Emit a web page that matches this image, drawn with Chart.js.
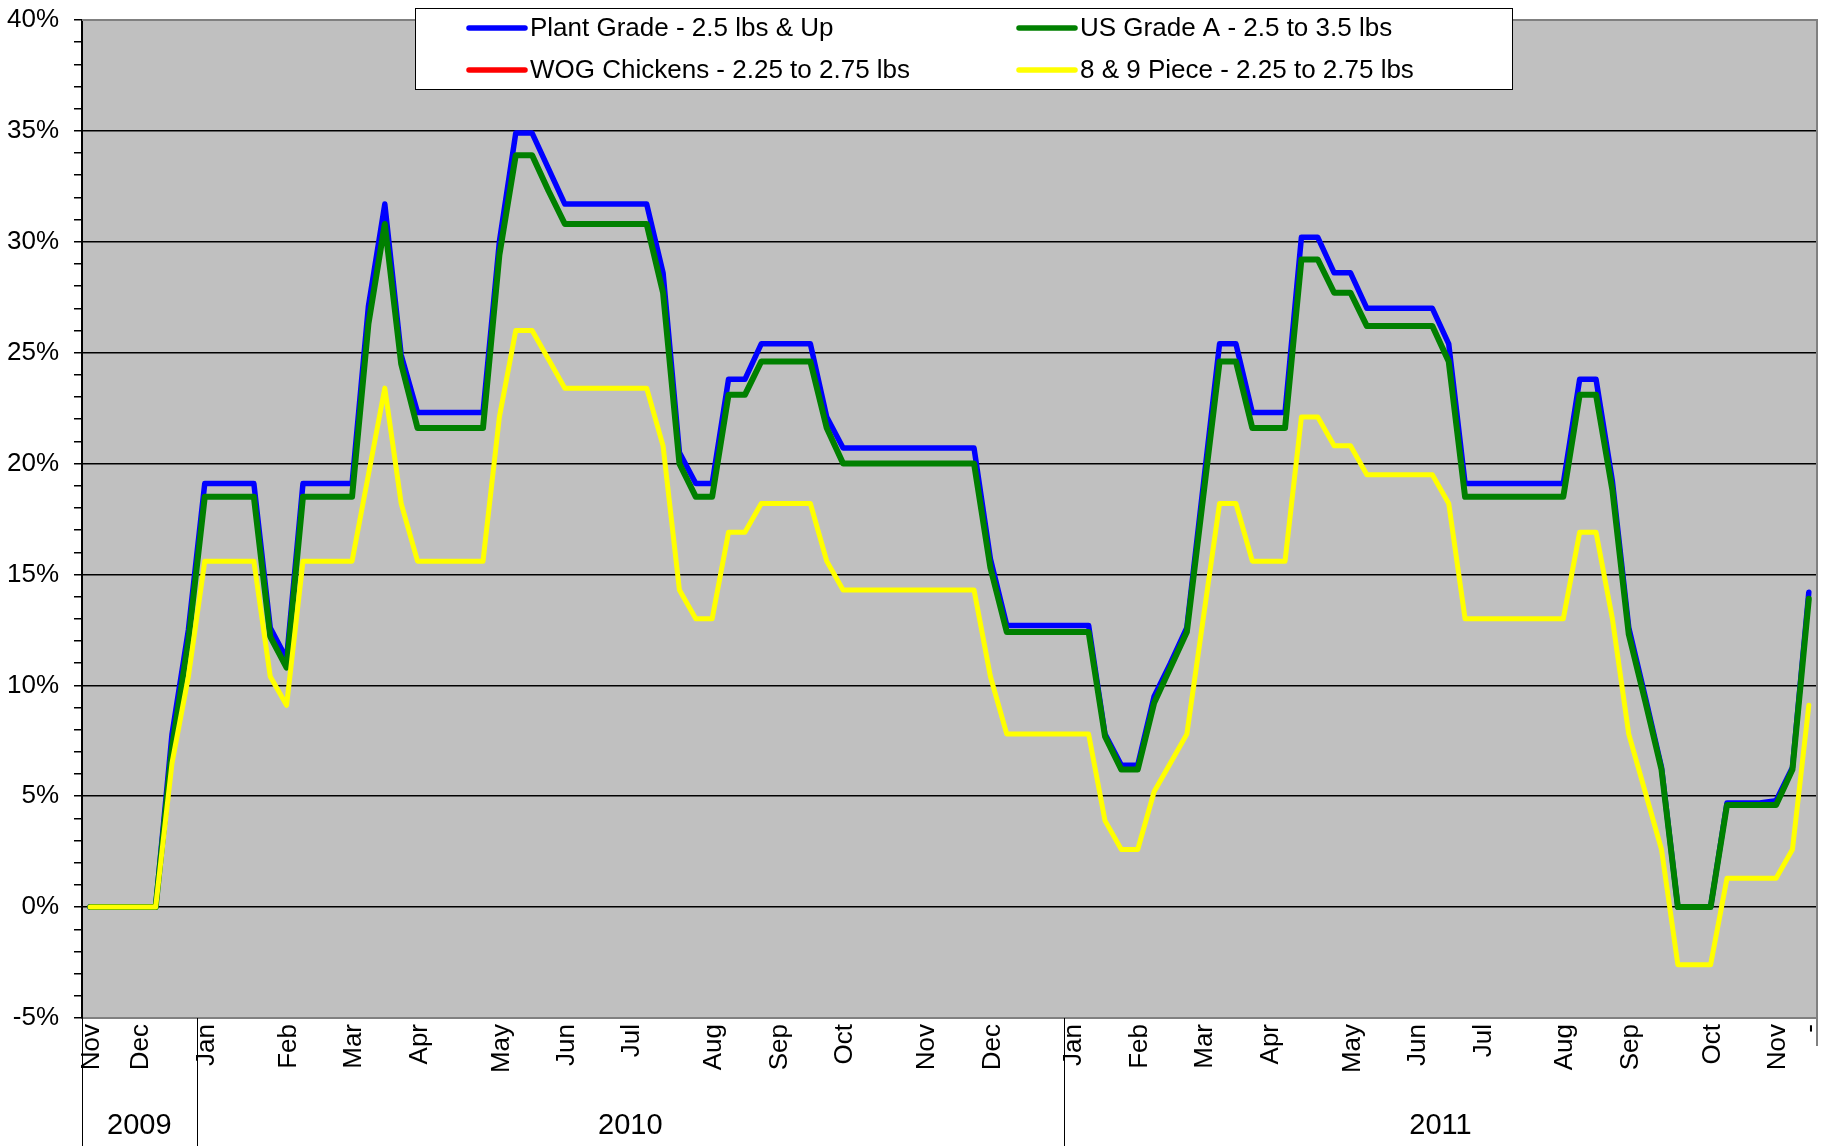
<!DOCTYPE html>
<html>
<head>
<meta charset="utf-8">
<script src="https://cdn.jsdelivr.net/npm/chart.js@4.4.1/dist/chart.umd.min.js"></script>
<style>
  html, body { margin: 0; padding: 0; background: #fff; }
</style>
</head>
<body>
<canvas id="chart" width="1825" height="1146"></canvas>
<script>
	// month label -> week index where it sits (106 weekly points)
	var monthNames = ['Nov','Dec','Jan','Feb','Mar','Apr','May','Jun','Jul','Aug','Sep','Oct','Nov','Dec',
		'Jan','Feb','Mar','Apr','May','Jun','Jul','Aug','Sep','Oct','Nov','-'];
	var monthWeek = [0,3,7,12,16,20,25,29,33,38,42,46,51,55,60,64,68,72,77,81,85,90,94,99,103,105];
	var years = ['2009','2010','2011'];
	var yearWeek = [0,7,60];
	var weekCount = 106;

	var plantGrade = [0,0,0,0,0, 7.8,12.5, 19.1,19.1,19.1,19.1, 12.6,11.2, 19.1,19.1,19.1,19.1,
		27.1,31.7,24.9, 22.3,22.3,22.3,22.3,22.3, 30.0,34.9,34.9,33.3, 31.7,31.7,31.7,31.7,31.7,31.7,
		28.6,20.5,19.1,19.1,23.8,23.8, 25.4,25.4,25.4,25.4, 22.1,
		20.7,20.7,20.7,20.7,20.7,20.7,20.7,20.7,20.7, 15.7, 12.7,12.7,12.7,12.7,12.7,12.7,
		7.8,6.4,6.4,9.5,11.0,12.6,19.0,25.4,25.4, 22.3,22.3,22.3, 30.2,30.2,28.6,28.6,
		27.0,27.0,27.0,27.0,27.0, 25.4, 19.1,19.1,19.1,19.1,19.1,19.1,19.1,
		23.8,23.8,19.2,12.6,9.5,6.3, 0,0,0, 4.7,4.7,4.7,4.8, 6.3,14.2];
	var usGradeA = [0,0,0,0,0, 7.2,12.0, 18.5,18.5,18.5,18.5, 12.2,10.8, 18.5,18.5,18.5,18.5,
		26.3,30.8,24.5, 21.6,21.6,21.6,21.6,21.6, 29.4,33.9,33.9,32.3, 30.8,30.8,30.8,30.8,30.8,30.8,
		27.7,20.0,18.5,18.5,23.1,23.1, 24.6,24.6,24.6,24.6, 21.6,
		20.0,20.0,20.0,20.0,20.0,20.0,20.0,20.0,20.0, 15.3, 12.4,12.4,12.4,12.4,12.4,12.4,
		7.7,6.2,6.2,9.2,10.8,12.4,18.5,24.6,24.6, 21.6,21.6,21.6, 29.2,29.2,27.7,27.7,
		26.2,26.2,26.2,26.2,26.2, 24.6, 18.5,18.5,18.5,18.5,18.5,18.5,18.5,
		23.1,23.1,18.8,12.3,9.3,6.2, 0,0,0, 4.6,4.6,4.6,4.6, 6.2,13.9];
	var wogChickens = [];
	var piece89 = [0,0,0,0,0, 6.5,10.4, 15.6,15.6,15.6,15.6, 10.4,9.1, 15.6,15.6,15.6,15.6,
		19.5,23.4,18.2, 15.6,15.6,15.6,15.6,15.6, 22.1,26.0,26.0,24.7, 23.4,23.4,23.4,23.4,23.4,23.4,
		20.8,14.3,13.0,13.0,16.9,16.9, 18.2,18.2,18.2,18.2, 15.6,
		14.3,14.3,14.3,14.3,14.3,14.3,14.3,14.3,14.3, 10.4, 7.8,7.8,7.8,7.8,7.8,7.8,
		3.9,2.6,2.6,5.2,6.5,7.8,13.0,18.2,18.2, 15.6,15.6,15.6, 22.1,22.1,20.8,20.8,
		19.5,19.5,19.5,19.5,19.5, 18.2, 13.0,13.0,13.0,13.0,13.0,13.0,13.0,
		16.9,16.9,13.0,7.8,5.2,2.6, -2.6,-2.6,-2.6, 1.3,1.3,1.3,1.3, 2.6,9.1];

	var FONT = 'Arial, "Liberation Sans", sans-serif';

	var weekLabels = [];
	for (var i = 0; i < weekCount; i++) { weekLabels.push(''); }
	for (var m = 0; m < monthWeek.length; m++) { weekLabels[monthWeek[m]] = monthNames[m]; }

	function series(label, data, color, width, order) {
		return {
			label: label, data: data, borderColor: color, backgroundColor: color,
			borderWidth: width, pointRadius: 0, tension: 0, fill: false, order: order,
			borderJoinStyle: 'round', borderCapStyle: 'round'
		};
	}

	// grey plot background, frame, year row and the boxed legend
	var excelFrame = {
		id: 'excelFrame',
		beforeDraw: function (chart) {
			var c = chart.ctx, a = chart.chartArea;
			c.save();
			c.fillStyle = '#fff';
			c.fillRect(0, 0, chart.width, chart.height);
			c.fillStyle = '#c0c0c0';
			c.fillRect(a.left, a.top, a.right - a.left, a.bottom - a.top);
			c.restore();
		},
		afterDraw: function (chart) {
			var c = chart.ctx, a = chart.chartArea, xs = chart.scales.x;
			var half = (xs.getPixelForValue(1) - xs.getPixelForValue(0)) / 2;
			c.save();
			// top and right frame
			c.strokeStyle = '#808080';
			c.lineWidth = 2;
			c.beginPath();
			c.moveTo(a.left, a.top); c.lineTo(a.right, a.top); c.lineTo(a.right, a.bottom);
			c.stroke();
			c.beginPath();
			c.moveTo(a.right, a.bottom); c.lineTo(a.right, a.bottom + 28);
			c.stroke();

			// year row
			c.strokeStyle = '#000';
			c.lineWidth = 1;
			c.fillStyle = '#000';
			c.font = '29px ' + FONT;
			c.textAlign = 'center';
			c.textBaseline = 'middle';
			for (var y = 0; y < years.length; y++) {
				var x0 = xs.getPixelForValue(yearWeek[y]) - half;
				var endWeek = y + 1 < yearWeek.length ? yearWeek[y + 1] : weekCount;
				var x1 = xs.getPixelForValue(endWeek - 1) + half;
				var xl = Math.round(x0) + 0.5;
				c.beginPath();
				c.moveTo(xl, a.bottom); c.lineTo(xl, chart.height);
				c.stroke();
				c.fillText(years[y], (x0 + x1) / 2, 1126);
			}

			// legend
			var box = { left: 415, top: 8, right: 1513, bottom: 90 };
			c.fillStyle = '#fff';
			c.fillRect(box.left, box.top, box.right - box.left, box.bottom - box.top);
			c.strokeStyle = '#000';
			c.lineWidth = 1;
			c.strokeRect(box.left + 0.5, box.top + 0.5, box.right - box.left - 1, box.bottom - box.top - 1);
			var colX = [469, 1019], rowY = [28, 70];
			c.font = '26px ' + FONT;
			c.textAlign = 'left';
			c.textBaseline = 'middle';
			chart.data.datasets.forEach(function (ds, k) {
				var lx = colX[k % 2], ly = rowY[Math.floor(k / 2)];
				c.strokeStyle = ds.borderColor;
				c.lineWidth = 5.5;
				c.lineCap = 'round';
				c.beginPath();
				c.moveTo(lx, ly); c.lineTo(lx + 56, ly);
				c.stroke();
				c.fillStyle = '#000';
				c.fillText(ds.label, lx + 61, ly + 1);
			});
			c.restore();
		}
	};

	new Chart(document.getElementById('chart'), {
		type: 'line',
		data: {
			labels: weekLabels,
			datasets: [
				series('Plant Grade - 2.5 lbs & Up', plantGrade, '#0000ff', 5.5, 4),
				series('US Grade A - 2.5 to 3.5 lbs', usGradeA, '#008000', 6, 3),
				series('WOG Chickens - 2.25 to 2.75 lbs', wogChickens, '#ff0000', 5.5, 2),
				series('8 & 9 Piece - 2.25 to 2.75 lbs', piece89, '#ffff00', 5, 1)
			]
		},
		options: {
			responsive: false,
			animation: false,
			devicePixelRatio: 1,
			layout: { padding: { top: 20, right: 8, left: 0, bottom: 0 } },
			plugins: { legend: { display: false }, tooltip: { enabled: false } },
			scales: {
				x: {
					type: 'category',
					offset: true,
					grid: { display: false, drawTicks: false },
					border: { display: true, color: '#808080', width: 2 },
					ticks: {
						autoSkip: false, minRotation: 90, maxRotation: 90, padding: 6, labelOffset: 2,
						color: '#000', font: { family: FONT, size: 26 }
					},
					afterFit: function (scale) {
						scale.height = 128;
						scale.paddingLeft = 0;
						scale.paddingRight = 0;
					}
				},
				y: {
					min: -5,
					max: 40,
					grid: {
						color: function (ctx) {
							var v = Math.round(ctx.tick.value);
							return (v % 5 === 0 && v > -5 && v < 40) ? '#000' : 'rgba(0,0,0,0)';
						},
						lineWidth: 1.5,
						tickColor: '#000',
						tickLength: 8,
						tickWidth: 1.5
					},
					border: { display: true, color: '#000', width: 2 },
					ticks: {
						stepSize: 1, autoSkip: false, padding: 15, color: '#000',
						font: { family: FONT, size: 26 },
						callback: function (v) { return Math.round(v) % 5 === 0 ? Math.round(v) + '%' : ''; }
					},
					afterFit: function (scale) {
						scale.width = 82;
						scale.paddingTop = 0;
						scale.paddingBottom = 0;
					}
				}
			}
		},
		plugins: [excelFrame]
	});
</script>
</body>
</html>
